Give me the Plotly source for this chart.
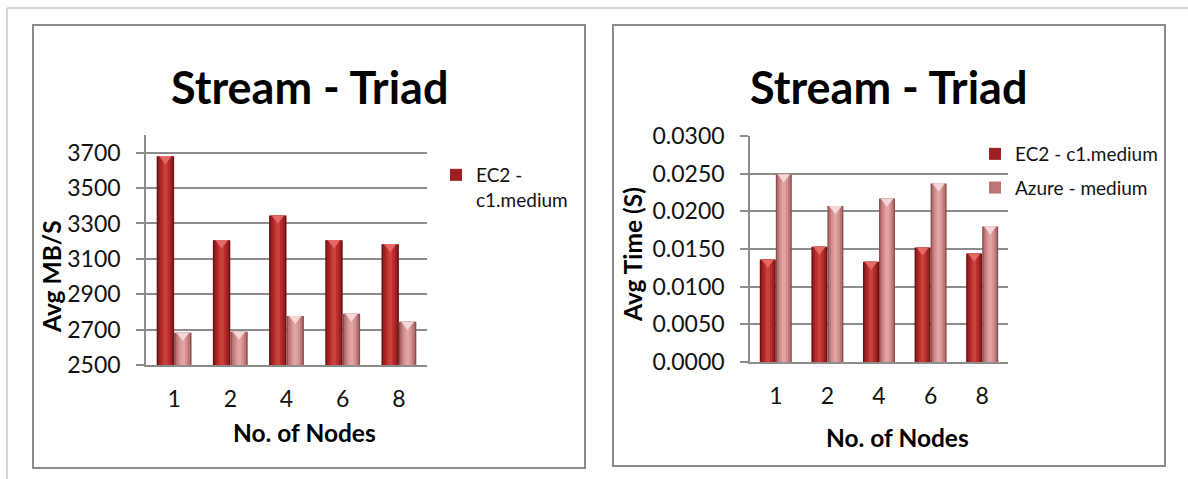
import plotly.graph_objects as go

# Node counts on the x axis
nodes = ["1", "2", "4", "6", "8"]

# Stream Triad bandwidth (MB/s)
ec2_mbs = [3680, 3205, 3345, 3205, 3183]
azure_mbs = [2682, 2688, 2777, 2790, 2744]

# Stream Triad time (seconds)
ec2_time = [0.0136, 0.0153, 0.0133, 0.0152, 0.0144]
azure_time = [0.0249, 0.0207, 0.0217, 0.0237, 0.0180]

mbs_ticks = [2500, 2700, 2900, 3100, 3300, 3500, 3700]
time_ticks = [0.0, 0.005, 0.010, 0.015, 0.020, 0.025, 0.030]

W, H = 1188, 479
FONT = "Lato"
GRID = "#8c8c8c"


def px_x(v):
    return v / W


def px_y(v):
    return 1 - v / H


# plot areas in page pixels: (left, top, right, bottom)
areas = {
    "left": (146, 135, 427, 365),
    "right": (750, 136, 1008, 362),
}
ranges = {"left": (2500, 3800), "right": (0.0, 0.030)}

# cylinder-like shading: (width fraction, colour) from outer to inner
shade_ec2 = [(1.0, "#6a1212"), (0.82, "#9e2020"), (0.55, "#b82c2b"), (0.25, "#c8413d")]
shade_azure = [(1.0, "#875050"), (0.82, "#bd7474"), (0.55, "#d48f8f"), (0.25, "#e0a4a4")]
cap_ec2 = "#e46a66"
cap_azure = "#f6d6d6"

BAR_W = 0.31

fig = go.Figure()


def add_series(values, name, shades, cap, side, chart, legend, show_legend):
    xa = "x" if chart == "left" else "x2"
    ya = "y" if chart == "left" else "y2"
    idx = list(range(len(values)))
    start = -BAR_W if side == "first" else 0.0
    for frac, colour in shades:
        w = BAR_W * frac
        fig.add_trace(go.Bar(
            x=idx, y=values, width=w, offset=start + (BAR_W - w) / 2,
            marker=dict(color=colour, line=dict(width=0)),
            name=name, xaxis=xa, yaxis=ya, legend=legend, legendgroup=name,
            showlegend=show_legend and frac == 0.82, hoverinfo="skip",
        ))
    # small lighter cap at the top of every bar
    left, top, right, bottom = areas[chart]
    lo, hi = ranges[chart]
    per_px = (hi - lo) / (bottom - top)
    fig.add_trace(go.Scatter(
        x=[i + start + BAR_W / 2 for i in idx],
        y=[v - 2.6 * per_px for v in values],
        mode="markers", xaxis=xa, yaxis=ya, showlegend=False, hoverinfo="skip",
        marker=dict(symbol="triangle-down", size=11, color=cap, line=dict(width=0)),
        cliponaxis=False,
    ))


add_series(ec2_mbs, "EC2 -<br>c1.medium", shade_ec2, cap_ec2, "first", "left", "legend", True)
add_series(azure_mbs, "Azure - medium", shade_azure, cap_azure, "second", "left", "legend", False)
add_series(ec2_time, "EC2 - c1.medium", shade_ec2, cap_ec2, "first", "right", "legend2", True)
add_series(azure_time, "Azure - medium", shade_azure, cap_azure, "second", "right", "legend2", True)

tick_font = dict(family=FONT, size=23, color="#111111")


def x_axis(chart):
    left, top, right, bottom = areas[chart]
    return dict(
        domain=[px_x(left), px_x(right)], range=[-0.5, len(nodes) - 0.5],
        tickmode="array", tickvals=list(range(len(nodes))), ticktext=nodes,
        showgrid=False, zeroline=False, showline=True, linecolor=GRID, linewidth=1.5,
        ticks="", tickfont=tick_font, ticklabelstandoff=13, fixedrange=True,
        automargin=False,
    )


def y_axis(chart, ticks, fmt, anchor):
    left, top, right, bottom = areas[chart]
    return dict(
        domain=[px_y(bottom), px_y(top)], range=list(ranges[chart]),
        tickmode="array", tickvals=ticks, tickformat=fmt,
        showgrid=True, gridcolor=GRID, gridwidth=1.5, zeroline=False,
        showline=True, linecolor=GRID, linewidth=1.5,
        ticks="outside", ticklen=8, tickcolor=GRID, tickwidth=1.5,
        tickfont=tick_font, ticklabelstandoff=11, anchor=anchor, fixedrange=True,
        automargin=False,
    )


shapes = [
    # page frame
    dict(type="line", xref="paper", yref="paper", x0=px_x(7), x1=1, y0=px_y(8), y1=px_y(8),
         line=dict(color="#c6c6c6", width=1.5)),
    dict(type="line", xref="paper", yref="paper", x0=px_x(7), x1=px_x(7), y0=px_y(8), y1=0,
         line=dict(color="#c6c6c6", width=1.5)),
    # chart borders
    dict(type="rect", xref="paper", yref="paper", x0=px_x(33), x1=px_x(585), y0=px_y(468), y1=px_y(25),
         line=dict(color="#8a8a8a", width=2), layer="below"),
    dict(type="rect", xref="paper", yref="paper", x0=px_x(613), x1=px_x(1165), y0=px_y(466), y1=px_y(25),
         line=dict(color="#8a8a8a", width=2), layer="below"),
]

title_font = dict(family=FONT, size=45, color="#000000")
axis_title_font = dict(family=FONT, size=24.5, color="#000000")


def label(text, x, y, font, angle=0):
    return dict(text=text, x=px_x(x), y=px_y(y), xref="paper", yref="paper",
                showarrow=False, font=font, textangle=angle, xanchor="center", yanchor="middle")


annotations = [
    label("<b>Stream - Triad</b>", 309, 87, title_font),
    label("<b>Stream - Triad</b>", 888, 87, title_font),
    label("<b>Avg MB/S</b>", 51, 277, axis_title_font, -90),
    label("<b>Avg Time (S)</b>", 633, 255, axis_title_font, -90),
    label("<b>No. of Nodes</b>", 304, 432, axis_title_font),
    label("<b>No. of Nodes</b>", 897, 437, axis_title_font),
]

legend_font = dict(family=FONT, size=19, color="#111111")

fig.update_layout(
    width=W, height=H,
    margin=dict(l=0, r=0, t=0, b=0, pad=0, autoexpand=False),
    paper_bgcolor="white", plot_bgcolor="white",
    barmode="overlay",
    xaxis=x_axis("left"), yaxis=y_axis("left", mbs_ticks, "d", "x"),
    xaxis2=x_axis("right"), yaxis2=y_axis("right", time_ticks, ".4f", "x2"),
    legend=dict(x=px_x(436), y=px_y(156), xanchor="left", yanchor="top",
                font=legend_font, bgcolor="rgba(0,0,0,0)", valign="top", itemwidth=30),
    legend2=dict(x=px_x(975), y=px_y(135), xanchor="left", yanchor="top",
                 font=legend_font, bgcolor="rgba(0,0,0,0)", tracegroupgap=6, itemwidth=30),
    shapes=shapes,
    annotations=annotations,
    showlegend=True,
)

fig.layout.xaxis.anchor = "y"
fig.layout.xaxis2.anchor = "y2"

fig.write_html("out.html", config={"displayModeBar": False})
